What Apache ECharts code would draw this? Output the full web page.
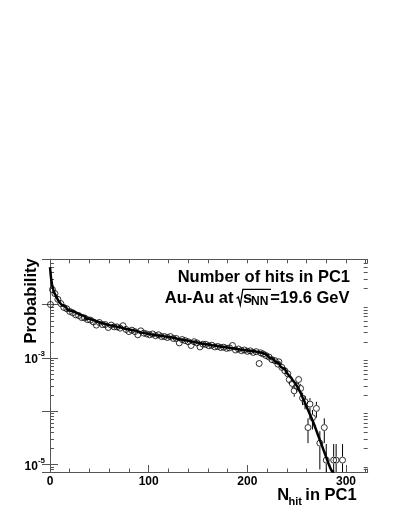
<!DOCTYPE html>
<html>
<head>
<meta charset="utf-8">
<script src="https://cdn.jsdelivr.net/npm/echarts@6.0.0/dist/echarts.min.js"></script>
<style>
  html, body { margin: 0; padding: 0; background: #fff; }
  #chart { width: 399px; height: 516px; }
</style>
</head>
<body>
<div id="chart"></div>
<script>
// histogram (solid line): left bin edges and probability of each bin
const simEdges = [0, 1, 2, 3, 4, 6, 8, 10, 12, 14, 16, 18,
  20, 24, 28, 32, 36, 40, 44, 48, 52, 56,
  60, 64, 68, 72, 76, 80, 84, 88, 92, 96,
  100, 104, 108, 112, 116, 120, 124, 128, 132, 136,
  140, 144, 148, 152, 156, 160, 164, 168, 172, 176,
  180, 184, 188, 192, 196, 200, 204, 208, 212, 216,
  220, 222, 224, 226, 228, 230, 232, 234, 236, 238,
  240, 242, 244, 246, 248, 250, 252, 254, 256, 258,
  260, 262, 264, 266, 268, 270, 272, 274, 276, 278,
  280, 282, 284, 286];
const simProb = [0.050, 0.032, 0.024, 0.020, 0.017, 0.0145, 0.0122, 0.0108, 0.0098, 0.0090, 0.0084, 0.0079,
  0.0074, 0.0068, 0.0063, 0.0059, 0.0054, 0.0051, 0.0048, 0.0045, 0.0043, 0.0041,
  0.0040, 0.0038, 0.0037, 0.0035, 0.0034, 0.0033, 0.0032, 0.0030, 0.0029, 0.0028,
  0.00272, 0.00265, 0.00260, 0.00252, 0.00246, 0.00240, 0.00230, 0.00222, 0.00215, 0.00208,
  0.00202, 0.00196, 0.00190, 0.00182, 0.00177, 0.00172, 0.00168, 0.00163, 0.00159, 0.00155,
  0.00151, 0.00147, 0.00143, 0.00140, 0.00137, 0.00134, 0.00131, 0.00127, 0.00122, 0.00114,
  0.00108, 0.00101, 0.00096, 0.00090, 0.00085, 0.00079, 0.00073, 0.00067, 0.00062, 0.00057,
  0.00052, 0.00047, 0.00043, 0.00038, 0.00034, 0.00030, 0.00026, 0.00022, 0.00018, 0.00015,
  0.000120, 0.000100, 0.000082, 0.000067, 0.000054, 0.000043, 0.000034, 0.000027, 0.0000215, 0.000017,
  0.0000135, 0.0000107, 0.0000086, 0.0000073];
const simLastEdge = 288;

// measured points (open circles), small errors hidden under the markers
const dataN = [0.5, 2.5, 5, 8, 11, 14, 17, 20, 23, 26, 29, 32, 35, 38, 41, 44, 47, 50,
  53, 56, 59, 62, 65, 68, 71, 74, 77, 80, 83, 86, 89, 92, 95, 98,
  101, 104, 107, 110, 113, 116, 119, 122, 125, 128, 131, 134, 137, 140,
  143, 146, 149, 152, 155, 158, 161, 164, 167, 170, 173, 176, 179, 182,
  185, 188, 191, 194, 197, 200, 203, 206, 209, 212, 213.5, 216, 219, 222,
  225, 228, 231, 232, 235, 238, 241];
const dataP = [0.0100, 0.0190, 0.0160, 0.0125, 0.0104, 0.0088, 0.0083, 0.0074, 0.0070, 0.0064, 0.0062, 0.0057, 0.0056, 0.0052, 0.0051, 0.0047, 0.0041, 0.0046,
  0.0042, 0.0042, 0.0037, 0.0041, 0.0038, 0.0038, 0.0036, 0.0040, 0.0034, 0.0031, 0.0033, 0.0031, 0.0027, 0.0032, 0.0029, 0.0028,
  0.0027, 0.0028, 0.0026, 0.0027, 0.0025, 0.0025, 0.0024, 0.0025, 0.0023, 0.0023, 0.0019, 0.0022, 0.0021, 0.0020,
  0.0017, 0.0020, 0.0019, 0.0016, 0.0018, 0.00178, 0.00168, 0.00172, 0.00160, 0.00163, 0.00156, 0.00158, 0.00150, 0.00153,
  0.00170, 0.00140, 0.00146, 0.00136, 0.00140, 0.00132, 0.00135, 0.00126, 0.00130, 0.00078, 0.00124, 0.00118, 0.00110, 0.00103,
  0.00092, 0.00088, 0.00076, 0.00084, 0.00066, 0.00057, 0.00050];

// tail points with visible error bars
const tailN = [242.5, 245.5, 247.5, 250, 252, 254, 256, 258.5, 261.5, 263.5, 266, 270, 273.5, 278, 280, 287.5, 290, 296.5];
const tailP = [3.9e-4, 3.3e-4, 2.4e-4, 2.9e-4, 3.9e-4, 2.66e-4, 1.75e-4, 1.5e-4, 4.9e-5, 1.35e-4, 7.5e-5, 1.12e-4, 2.5e-5, 4.9e-5, 1.2e-5, 1.2e-5, 1.2e-5, 1.2e-5];
const tailErr = [6.8e-5, 6.3e-5, 5.4e-5, 5.9e-5, 6.8e-5, 5.6e-5, 4.6e-5, 4.2e-5, 2.4e-5, 4.0e-5, 3.0e-5, 3.7e-5, 1.7e-5, 2.4e-5, 1.2e-5, 1.2e-5, 1.2e-5, 1.2e-5];

const xTickLabels = [0, 100, 200, 300];
const yTickLabels = [-3, -5];   // labelled decades (exponents)

const xMax = 322;
const yMin = 7.18e-6, yMax = 0.0705;
const FONT = '"Liberation Sans", Arial, sans-serif';
const AXIS_COLOR = '#555';

const chart = echarts.init(document.getElementById('chart'));

// histogram line through bin edges
const simLine = simEdges.map((e, i) => [e, simProb[i]]);
simLine.push([simLastEdge, simProb[simProb.length - 1]]);

const points = dataN.map((n, i) => [n, dataP[i]]).concat(tailN.map((n, i) => [n, tailP[i]]));
const errPoints = tailN.map((n, i) => [n, tailP[i], tailErr[i]]);

// minor ticks of the log axis: 2..9 x 10^k
const minorY = [];
for (let k = -6; k <= -2; k++) {
  for (let m = 2; m <= 9; m++) {
    const v = m * Math.pow(10, k);
    if (v > yMin && v < yMax) minorY.push([0, v]);
  }
}

function yLabel(v) {
  const e = Math.round(Math.log10(v));
  if (Math.abs(Math.log10(v) - e) > 1e-6) return '';
  return yTickLabels.indexOf(e) >= 0 ? '{b|10}{s|' + e + '}' : '';
}

const xAxisBase = {
  type: 'value', min: 0, max: xMax, gridIndex: 0,
  splitLine: { show: false },
  axisLine: { show: false },
  axisLabel: { show: false },
  axisTick: { show: true, inside: true, lineStyle: { color: AXIS_COLOR, width: 1 } }
};
const yAxisBase = {
  type: 'log', logBase: 10, min: yMin, max: yMax,
  splitLine: { show: false },
  axisLine: { show: true, lineStyle: { color: AXIS_COLOR, width: 1 } },
  axisTick: { show: true, inside: true, length: 8, lineStyle: { color: AXIS_COLOR, width: 1 } },
  axisLabel: { show: false }
};

const option = {
  animation: false,
  backgroundColor: '#fff',
  grid: { left: 50, right: 31.3, top: 259.3, bottom: 44 },
  xAxis: [
    Object.assign({}, xAxisBase, {
      position: 'bottom', interval: 100,
      axisLine: { show: true, onZero: false, lineStyle: { color: AXIS_COLOR, width: 1 } },
      axisTick: { show: true, inside: true, length: 7, lineStyle: { color: AXIS_COLOR, width: 1 } },
      axisLabel: {
        show: true, margin: 4, fontFamily: FONT, fontWeight: 'bold', fontSize: 12, color: '#000',
        showMaxLabel: false,
        formatter: v => (xTickLabels.indexOf(v) >= 0 ? String(v) : '')
      }
    }),
    Object.assign({}, xAxisBase, {
      position: 'bottom', interval: 20,
      axisTick: { show: true, inside: true, length: 3.5, lineStyle: { color: AXIS_COLOR, width: 1 } }
    }),
    Object.assign({}, xAxisBase, {
      position: 'top', interval: 20,
      axisLine: { show: true, onZero: false, lineStyle: { color: AXIS_COLOR, width: 1 } },
      axisTick: { show: true, inside: true, length: 4, lineStyle: { color: AXIS_COLOR, width: 1 } }
    })
  ],
  yAxis: [
    Object.assign({}, yAxisBase, {
      position: 'left',
      axisLabel: {
        show: true, margin: 5, formatter: yLabel,
        rich: {
          b: { fontFamily: FONT, fontWeight: 'bold', fontSize: 12, color: '#000', lineHeight: 16, verticalAlign: 'bottom' },
          s: { fontFamily: FONT, fontWeight: 'bold', fontSize: 8, color: '#000', lineHeight: 16, verticalAlign: 'top' }
        }
      }
    }),
    Object.assign({}, yAxisBase, { position: 'right' })
  ],
  graphic: [
    { type: 'text', x: 350, y: 277.7, style: { text: 'Number of hits in PC1', font: 'bold 16.5px ' + FONT, fill: '#000', align: 'right', verticalAlign: 'middle' } },
    { type: 'text', x: 233.5, y: 298.3, style: { text: 'Au-Au at', font: 'bold 16.5px ' + FONT, fill: '#000', align: 'right', verticalAlign: 'middle' } },
    { type: 'polyline', shape: { points: [[236.5, 298.5], [238.3, 297], [240.3, 305], [242.8, 289.3], [271, 289.3]] }, style: { stroke: '#000', lineWidth: 1.3, fill: null } },
    { type: 'text', x: 243, y: 298.3, style: { text: 's', font: 'bold 16.5px ' + FONT, fill: '#000', align: 'left', verticalAlign: 'middle' } },
    { type: 'text', x: 251, y: 301.8, style: { text: 'NN', font: 'bold 12px ' + FONT, fill: '#000', align: 'left', verticalAlign: 'middle' } },
    { type: 'text', x: 349.5, y: 298.3, style: { text: '=19.6 GeV', font: 'bold 16.5px ' + FONT, fill: '#000', align: 'right', verticalAlign: 'middle' } },
    { type: 'text', x: 31, y: 258.3, rotation: Math.PI / 2, style: { text: 'Probability', font: 'bold 16.5px ' + FONT, fill: '#000', align: 'right', verticalAlign: 'middle' } },
    { type: 'text', x: 277.3, y: 495.3, style: { text: 'N', font: 'bold 16.5px ' + FONT, fill: '#000', align: 'left', verticalAlign: 'middle' } },
    { type: 'text', x: 288.5, y: 501.5, style: { text: 'hit', font: 'bold 11px ' + FONT, fill: '#000', align: 'left', verticalAlign: 'middle' } },
    { type: 'text', x: 356.7, y: 495.3, style: { text: 'in PC1', font: 'bold 16.5px ' + FONT, fill: '#000', align: 'right', verticalAlign: 'middle' } }
  ],
  series: [
    {
      // minor ticks on both log axes
      type: 'custom', xAxisIndex: 0, yAxisIndex: 0, silent: true, z: 1,
      encode: { x: 0, y: 1 },
      data: minorY,
      renderItem: (params, api) => {
        const cs = params.coordSys;
        const y = Math.round(api.coord([0, api.value(1)])[1]) + 0.5;
        const st = { stroke: AXIS_COLOR, lineWidth: 1 };
        return {
          type: 'group', children: [
            { type: 'line', shape: { x1: cs.x, y1: y, x2: cs.x + 4, y2: y }, style: st },
            { type: 'line', shape: { x1: cs.x + cs.width, y1: y, x2: cs.x + cs.width - 4, y2: y }, style: st }
          ]
        };
      }
    },
    {
      // error bars, drawn up to the marker edge
      type: 'custom', xAxisIndex: 0, yAxisIndex: 0, silent: true, z: 2, clip: true,
      encode: { x: 0, y: 1 },
      data: errPoints,
      renderItem: (params, api) => {
        const n = api.value(0), p = api.value(1), e = api.value(2);
        const c = api.coord([n, p]);
        const up = api.coord([n, p + e]);
        const lowVal = p - e > yMin ? p - e : yMin;
        const dn = api.coord([n, lowVal]);
        const r = 3.5;
        const st = { stroke: '#000', lineWidth: 1 };
        const kids = [];
        if (up[1] < c[1] - r) kids.push({ type: 'line', shape: { x1: c[0], y1: c[1] - r, x2: up[0], y2: up[1] }, style: st });
        if (dn[1] > c[1] + r) kids.push({ type: 'line', shape: { x1: c[0], y1: c[1] + r, x2: dn[0], y2: dn[1] }, style: st });
        return { type: 'group', children: kids };
      }
    },
    {
      type: 'scatter', xAxisIndex: 0, yAxisIndex: 0, z: 3,
      symbol: 'circle', symbolSize: 6,
      itemStyle: { color: 'rgba(0,0,0,0)', borderColor: '#000', borderWidth: 1 },
      data: points
    },
    {
      type: 'line', xAxisIndex: 0, yAxisIndex: 0, z: 4,
      step: 'end', showSymbol: false, clip: true,
      lineStyle: { color: '#000', width: 2.5 },
      data: simLine
    }
  ]
};

chart.setOption(option);
</script>
</body>
</html>
